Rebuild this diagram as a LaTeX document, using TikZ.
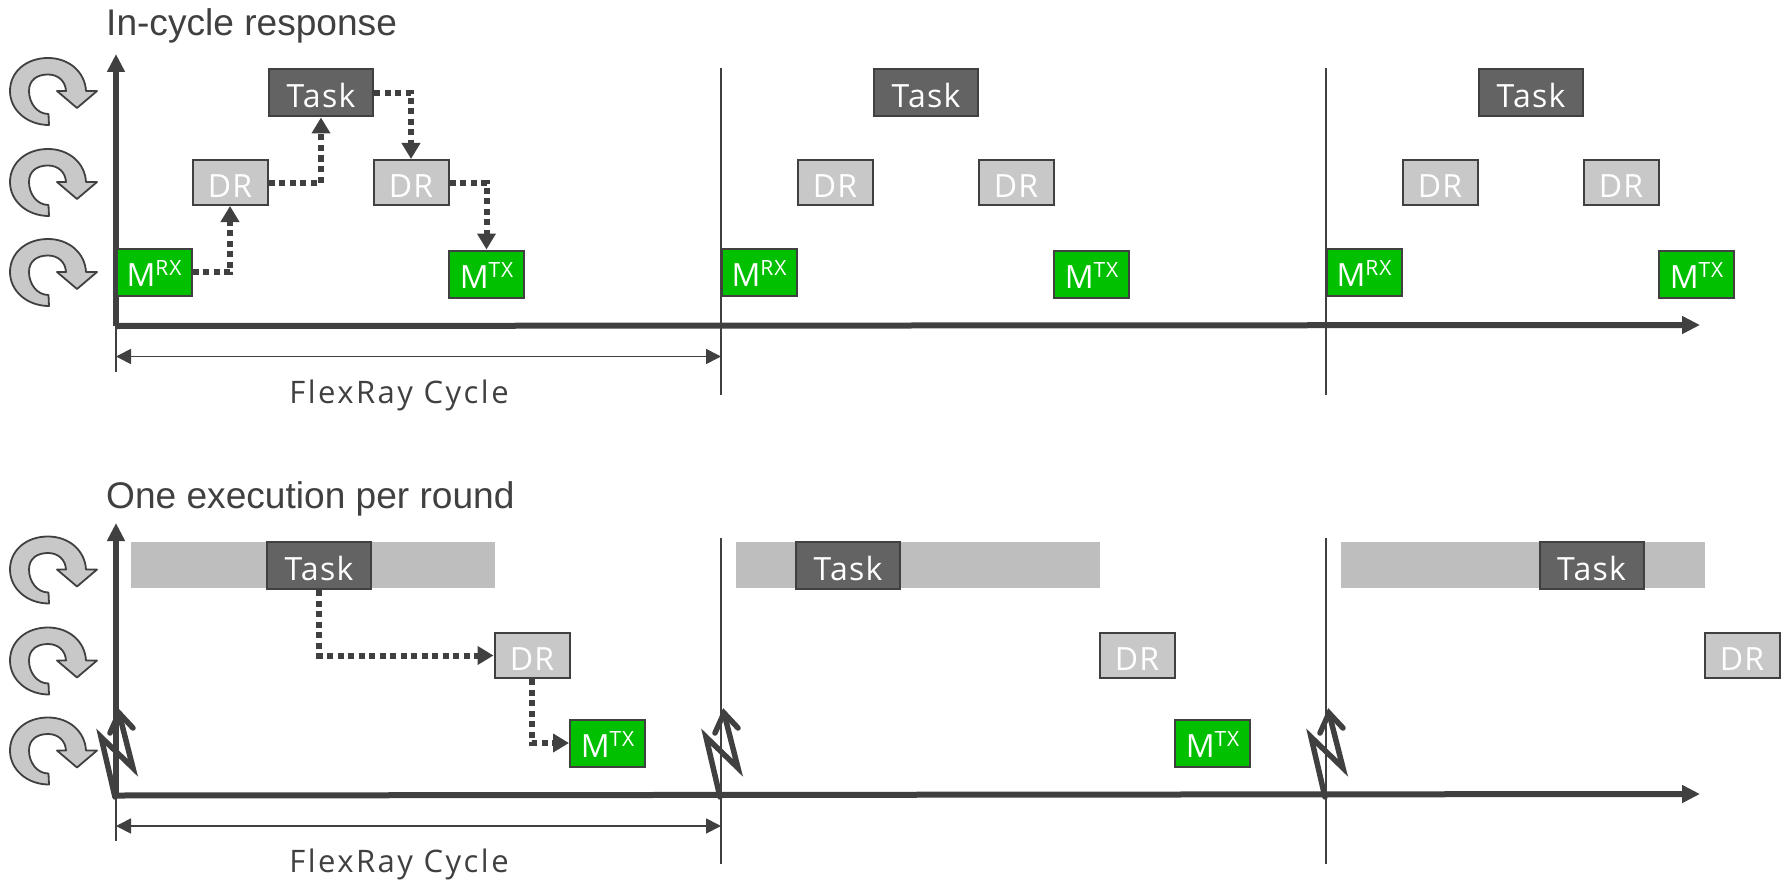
\documentclass[tikz,border=0pt]{standalone}
\usepackage{fontspec}
\setmainfont{Liberation Sans}
\newfontfamily\boxfont[LetterSpace=4]{Open Sans}
\newfontfamily\cyclefont[LetterSpace=8]{Open Sans}
\usetikzlibrary{arrows.meta}
\definecolor{ink}{HTML}{404040}
\definecolor{taskfill}{HTML}{636363}
\definecolor{drfill}{HTML}{C8C8C8}
\definecolor{barfill}{HTML}{BEBEBE}
\definecolor{msgfill}{HTML}{00C000}
\newcommand{\msgtext}[1]{M\raisebox{11pt}{\fontsize{21}{24}\selectfont #1}}
\tikzset{
  x=1pt,y=-1pt,
  basebox/.style={draw=ink,line width=2pt,inner sep=0pt,text=white,text depth=0pt,text height=29pt,font=\boxfont\fontsize{32}{34}\selectfont},
  taskbox/.style={basebox,fill=taskfill,minimum width=104pt,minimum height=47pt},
  drbox/.style={basebox,fill=drfill,minimum width=75pt,minimum height=45pt},
  msgbox/.style={basebox,fill=msgfill,minimum width=75pt,minimum height=47pt},
  axisline/.style={draw=ink,line width=6pt,-{Triangle[length=18pt,width=17pt]}},
  cycleline/.style={draw=ink,line width=1.7pt},
  dimline/.style={draw=ink,line width=1.7pt,{Triangle[length=15pt,width=15pt]}-{Triangle[length=15pt,width=15pt]}},
  flowline/.style={draw=ink,line width=6pt,dash pattern=on 6pt off 4.5pt,-{Triangle[length=16pt,width=18pt]}},
  bolt/.style={draw=ink,line width=5.5pt,line join=miter,line cap=round},
  titletext/.style={text=ink,anchor=base west,inner sep=0pt,font=\fontsize{37.1}{40}\selectfont},
  cycletext/.style={text=ink,inner sep=0pt,font=\cyclefont\fontsize{31}{34}\selectfont},
  rotarrow/.style={draw=ink,fill=drfill,line width=1.8pt,line join=round},
  barbox/.style={fill=barfill,minimum width=364pt,minimum height=46pt,inner sep=0pt}
}
\newcommand{\rotsym}[2]{%
  \begin{scope}[shift={(#1,#2)}]
    \draw[rotarrow] (49,124) -- (48.5,113) .. controls (37,113) and (29,102) .. (29,90)
      .. controls (29,79) and (37,73.5) .. (48,73.5)
      .. controls (58,73.5) and (65.5,80) .. (66,90) -- (57,90) -- (77,107) -- (97,90) -- (86,90)
      .. controls (85,71) and (69,57) .. (48,57)
      .. controls (26,57) and (10,71) .. (10,90)
      .. controls (10,109) and (27,124) .. (49,124) -- cycle;
  \end{scope}}
\begin{document}
\begin{tikzpicture}
\useasboundingbox (0,0) rectangle (1788,880);
% titles
\node[titletext] (titleA) at (106,36) {In-cycle response};
\node[titletext] (titleB) at (106,508.5) {One execution per round};
% rotation symbols
\foreach \yy in {1,92,182,479.5,570.5,660.5} {\rotsym{0}{\yy}}
% top axes
\coordinate (oA) at (116,326);
\coordinate (yA) at (116,54);
\coordinate (xA) at (1700,325);
\draw[cycleline] (116,325) -- (116,372);
\draw[axisline] (oA) -- (yA);
\draw[axisline] (oA) -- (xA);
\foreach \xx in {721,1326} {\draw[cycleline] (\xx,68) -- (\xx,395);}
\coordinate (dA1) at (116,356.5);
\coordinate (dA2) at (721,356.5);
\draw[dimline] (dA1) -- (dA2);
\node[cycletext] (fcA) at (399,395) {FlexRay Cycle};
% top boxes
\foreach \c/\d in {1/0,2/605,3/1210} {
  \begin{scope}[shift={(\d,0)}]
    \node[taskbox] (t\c) at (321,93) {Task};
    \node[drbox] (da\c) at (230,182.5) {DR};
    \node[drbox] (db\c) at (411,182.5) {DR};
    \node[msgbox] (mr\c) at (154,272) {\msgtext{RX}};
    \node[msgbox] (mt\c) at (486.5,274) {\msgtext{TX}};
  \end{scope}
}
\draw[flowline] (mr1.east) -| (da1.south);
\draw[flowline] (da1.east) -| (t1.south);
\draw[flowline] (t1.east) -| (db1.north);
\draw[flowline] (db1.east) -| (mt1.north);
% bottom axes
\coordinate (oB) at (116,795.5);
\coordinate (yB) at (116,523);
\coordinate (xB) at (1700,794);
\draw[cycleline] (116,795) -- (116,841);
\draw[axisline] (oB) -- (yB);
\draw[axisline] (oB) -- (xB);
\foreach \xx in {721,1326} {\draw[cycleline] (\xx,538) -- (\xx,864);}
\coordinate (dB1) at (116,826);
\coordinate (dB2) at (721,826);
\draw[dimline] (dB1) -- (dB2);
\node[cycletext] (fcB) at (399,864) {FlexRay Cycle};
% bolts
\foreach \d in {0,605,1210} {
  \begin{scope}[shift={(\d,0)}]
    \draw[bolt] (115,797) -- (101,737) -- (133,768) -- (119,713);
    \draw[bolt] (110,733) -- (119,713) -- (133,728);
  \end{scope}
}
% bottom boxes
\node[barbox] (b1) at (313,564.5) {};
\node[barbox] (b2) at (918,564.5) {};
\node[barbox] (b3) at (1523,564.5) {};
\node[taskbox] (u1) at (319,565.5) {Task};
\node[taskbox] (u2) at (848,565.5) {Task};
\node[taskbox] (u3) at (1591.5,565.5) {Task};
\foreach \c/\d in {1/0,2/605,3/1210} {
  \node[drbox] (e\c) at (532+\d,655.5) {DR};
}
\foreach \c/\d in {1/0,2/605} {
  \node[msgbox] (v\c) at (607.5+\d,743) {\msgtext{TX}};
}
\draw[flowline] (u1.south) |- (e1.west);
\draw[flowline] (e1.south) |- (v1.west);
\end{tikzpicture}
\end{document}
